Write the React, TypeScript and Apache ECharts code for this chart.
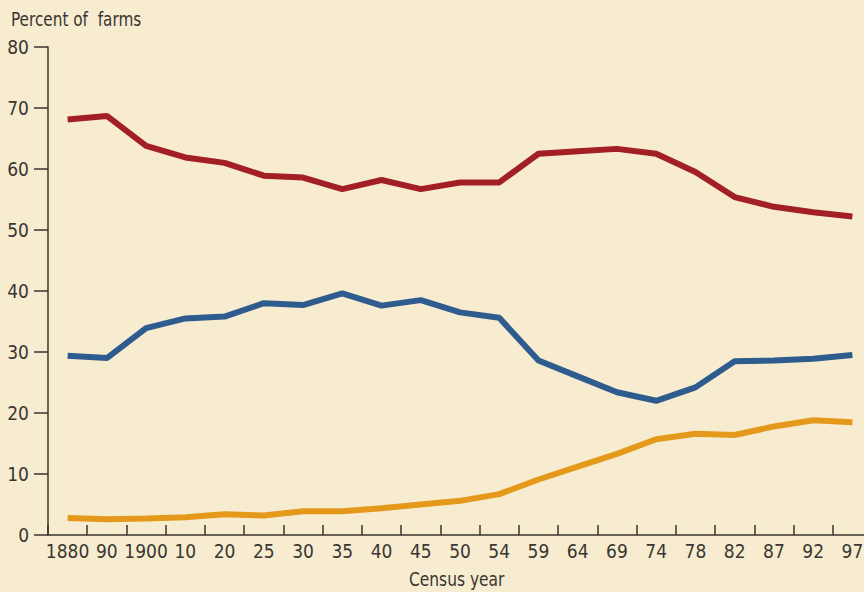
import React, { useEffect, useRef } from "react";
import * as echarts from "echarts";

const years = ["1880", "90", "1900", "10", "20", "25", "30", "35", "40", "45", "50", "54", "59", "64", "69", "74", "78", "82", "87", "92", "97"];
const redSeries = [68.1, 68.7, 63.8, 61.9, 61.0, 58.9, 58.6, 56.7, 58.2, 56.7, 57.8, 57.8, 62.5, 62.9, 63.3, 62.5, 59.5, 55.4, 53.8, 52.9, 52.2];
const blueSeries = [29.4, 29.0, 33.9, 35.5, 35.8, 38.0, 37.7, 39.6, 37.6, 38.5, 36.5, 35.6, 28.6, 26.0, 23.4, 22.0, 24.2, 28.5, 28.6, 28.9, 29.5];
const orangeSeries = [2.8, 2.6, 2.7, 2.9, 3.4, 3.2, 3.9, 3.9, 4.4, 5.0, 5.6, 6.7, 9.1, 11.2, 13.3, 15.7, 16.6, 16.4, 17.8, 18.8, 18.5];
const yTicks = [0, 10, 20, 30, 40, 50, 60, 70, 80];

const FONT = "'DejaVu Sans Condensed', 'Liberation Sans Narrow', sans-serif";
const TEXT = "#3a3632";
const AXIS = "#3a3530";

export default function App() {
  const ref = useRef<HTMLDivElement>(null);
  useEffect(() => {
    if (!ref.current) return;
    const chart = echarts.init(ref.current, undefined, { renderer: "svg" });
    chart.setOption({
      animation: false,
      backgroundColor: "#f7ecd0",
      grid: { left: 48, top: 47, bottom: 57, right: 0, containLabel: false },
      graphic: [
        {
          type: "text",
          x: 11,
          y: 9,
          scaleX: 0.85,
          style: { text: "Percent of  farms", font: `20px ${FONT}`, fill: TEXT },
        },
        {
          type: "text",
          x: 409,
          y: 569,
          scaleX: 0.86,
          style: { text: "Census year", font: `20px ${FONT}`, fill: TEXT },
        },
      ],
      xAxis: {
        type: "category",
        data: years,
        boundaryGap: true,
        axisLine: { show: true, lineStyle: { color: AXIS, width: 1.5 } },
        axisTick: { show: true, inside: true, length: 10, interval: 0, lineStyle: { color: AXIS, width: 1.5 } },
        axisLabel: { interval: 0, margin: 6, fontSize: 19, fontFamily: FONT, color: TEXT },
        splitLine: { show: false },
      },
      yAxis: {
        type: "value",
        min: yTicks[0],
        max: yTicks[yTicks.length - 1],
        interval: 10,
        axisLine: { show: true, lineStyle: { color: AXIS, width: 1.5 } },
        axisTick: { show: true, inside: false, length: 14, lineStyle: { color: AXIS, width: 1.5 } },
        axisLabel: { margin: 19, fontSize: 19, fontFamily: FONT, color: TEXT },
        splitLine: { show: false },
      },
      series: [
        { type: "line", data: redSeries, symbol: "none", lineStyle: { color: "#a21f25", width: 6 } },
        { type: "line", data: blueSeries, symbol: "none", lineStyle: { color: "#2f5c8e", width: 6 } },
        { type: "line", data: orangeSeries, symbol: "none", lineStyle: { color: "#e5991b", width: 6 } },
      ],
    });
    return () => chart.dispose();
  }, []);
  return (
    <div style={{ position: "fixed", left: 0, top: 0, width: 864, height: 592, overflow: "hidden", background: "#f7ecd0" }}>
      <div ref={ref} style={{ width: 872, height: 592 }} />
    </div>
  );
}
